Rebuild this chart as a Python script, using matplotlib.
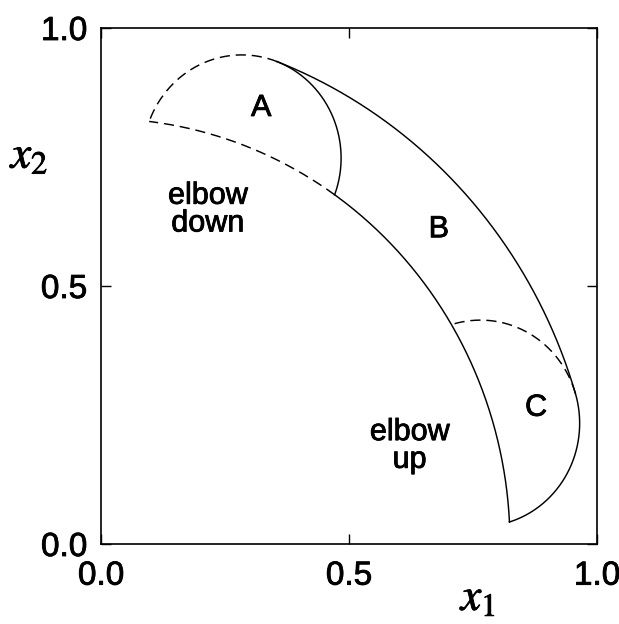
import numpy as np
import matplotlib
matplotlib.use("Agg")
import matplotlib.pyplot as plt
import matplotlib.patheffects as pe

# --- data ---
link_lengths = [0.8, 0.2]            # l1, l2
theta1_limits_deg = [17.0, 69.2]     # shoulder joint range
theta2_limits_deg = [-90.0, 90.0]    # elbow joint range
region_labels = ["A", "B", "C"]
region_label_xy = [(0.323, 0.845), (0.681, 0.610), (0.877, 0.264)]
config_labels = ["elbow\ndown", "elbow\nup"]
config_label_xy = [(0.215, 0.648), (0.622, 0.190)]
tick_values = [0.0, 0.5, 1.0]
tick_labels = ["0.0", "0.5", "1.0"]

plt.rcParams['font.family'] = ['Liberation Sans', 'DejaVu Sans']
plt.rcParams['mathtext.fontset'] = 'stix'

l1, l2 = link_lengths
t1min, t1max = np.radians(theta1_limits_deg)
t2min, t2max = np.radians(theta2_limits_deg)


def fk(t1, t2):
    t1 = np.asarray(t1, dtype=float)
    t2 = np.asarray(t2, dtype=float)
    return l1 * np.cos(t1) + l2 * np.cos(t1 + t2), l1 * np.sin(t1) + l2 * np.sin(t1 + t2)


n = 300
offset = np.arctan2(l2, l1)
t1_overlap = (t1max - offset) - offset  # theta2=+90 branch meets theta2=-90 branch end

segments = [
    # (theta1 array, theta2 array, style)
    (np.linspace(t1min, t1max, n), np.zeros(n), '-'),
    (np.full(n, t1max), np.linspace(0, t2max, n), '--'),
    (np.full(n, t1max), np.linspace(0, t2min, n), '-'),
    (np.linspace(t1_overlap, t1max, n), np.full(n, t2max), '--'),
    (np.linspace(t1min, t1max, n), np.full(n, t2min), '-'),
    (np.full(n, t1min), np.linspace(0, t2max, n), '--'),
    (np.full(n, t1min), np.linspace(0, t2min, n), '-'),
]

fig = plt.figure(figsize=(6.19, 6.24), dpi=100)
ax = fig.add_axes([101 / 619, 1 - 544 / 624, 496 / 619, 516 / 624])

for t1, t2, ls in segments:
    x, y = fk(t1, t2)
    if ls == '--':
        ax.plot(x, y, color='black', lw=1.05, dashes=(7, 4))
    else:
        ax.plot(x, y, color='black', lw=1.05)

heavy = [pe.withStroke(linewidth=0.6, foreground='black')]

fs = 22
for lab, (tx, ty) in zip(region_labels, region_label_xy):
    ax.text(tx, ty, lab, fontsize=fs, ha='center', va='center', path_effects=heavy)
for lab, (tx, ty) in zip(config_labels, config_label_xy):
    ax.text(tx, ty, lab, fontsize=fs, ha='center', va='center', linespacing=0.9,
            path_effects=heavy)

ax.set_xlim(0, 1)
ax.set_ylim(0, 1)
ax.set_xticks(tick_values)
ax.set_xticklabels(tick_labels)
ax.set_yticks(tick_values)
ax.set_yticklabels(tick_labels)
ax.tick_params(direction='in', length=7, width=1.0, top=True, right=True,
               labelsize=24)
ax.tick_params(axis='x', pad=12)
ax.tick_params(axis='y', pad=10)
for lbl in ax.get_xticklabels() + ax.get_yticklabels():
    lbl.set_path_effects(heavy)
for s in ax.spines.values():
    s.set_linewidth(1.2)

ax.text(0.762, -0.105, r'$x_1$', transform=ax.transAxes, fontsize=33,
        ha='center', va='center', path_effects=heavy)
ax.text(-0.143, 0.752, r'$x_2$', transform=ax.transAxes, fontsize=33,
        ha='center', va='center', path_effects=heavy)

fig.savefig('out.png', dpi=100)
